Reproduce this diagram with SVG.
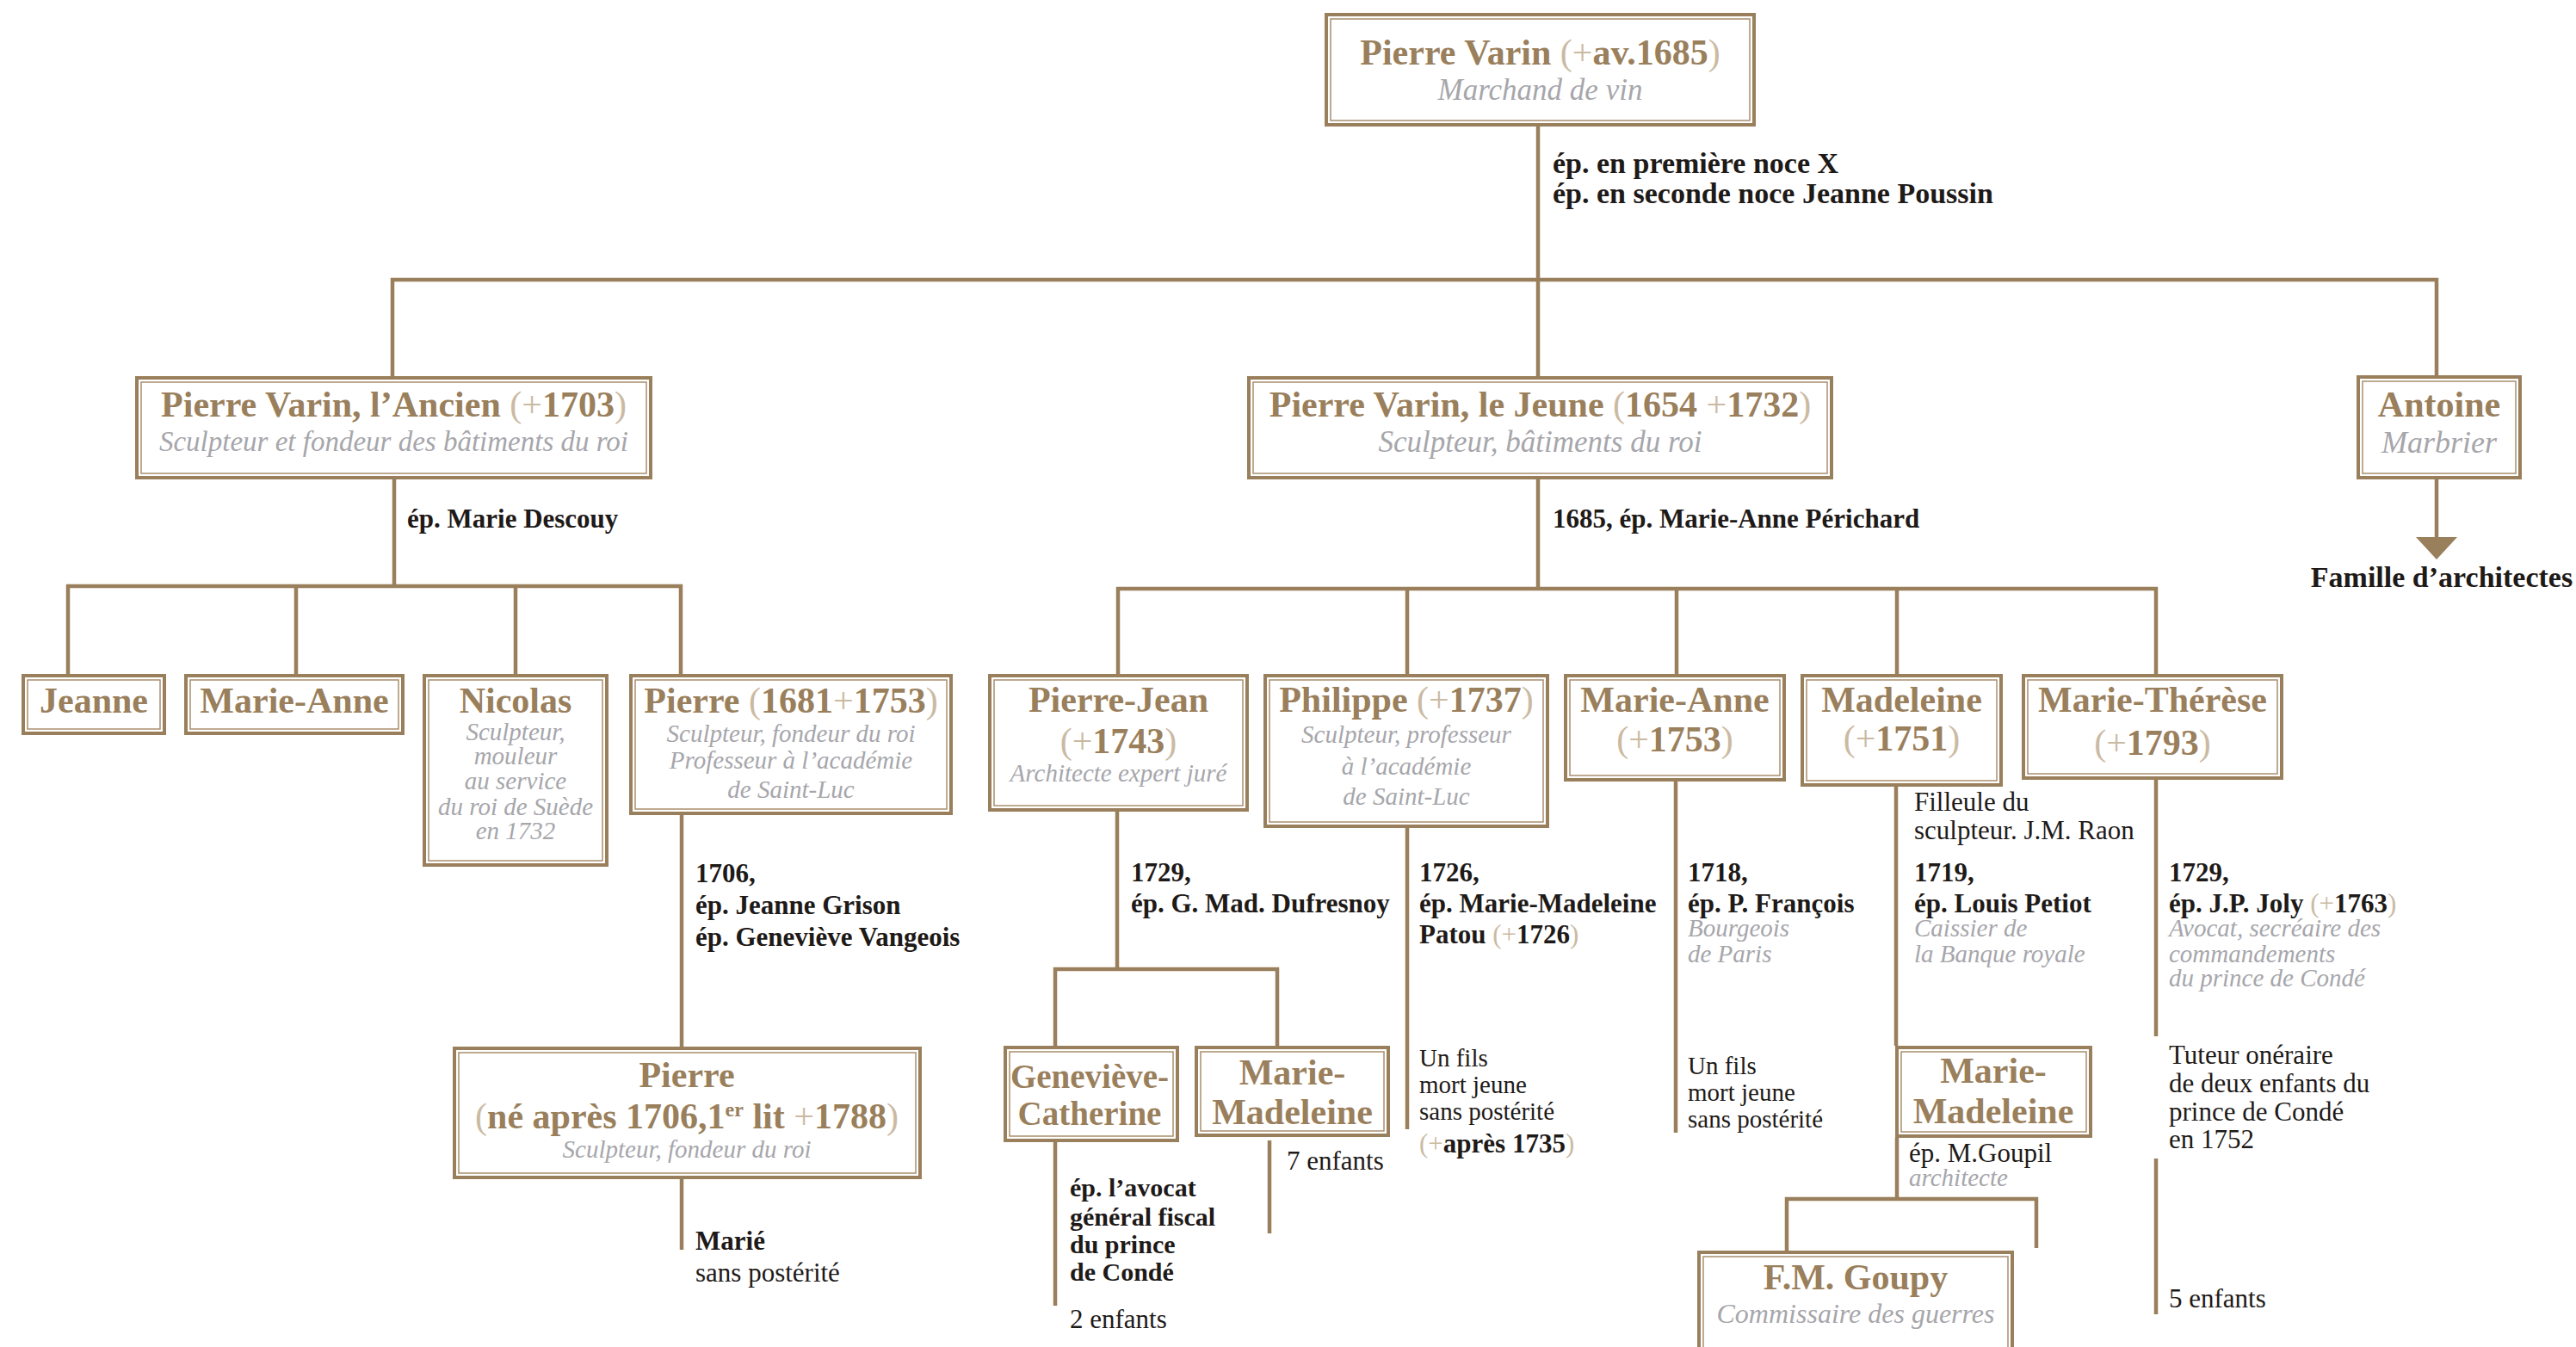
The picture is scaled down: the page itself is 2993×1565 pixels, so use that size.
<svg xmlns="http://www.w3.org/2000/svg" width="2993" height="1565" viewBox="0 0 2993 1565">
<style>
text{font-family:"Liberation Serif","Times New Roman",serif}
.t{font-weight:bold;fill:#9a7f5c;text-anchor:middle;font-size:42px}
.p{font-weight:normal;fill:#cbbaa2}
.s{font-style:italic;fill:#a6a6ab;text-anchor:middle;font-size:29px}
.lb{font-weight:bold;fill:#1e1a18;font-size:31px}
.lr{fill:#1e1a18;font-size:31px}
.lr2{fill:#1e1a18;font-size:29px}
.li{font-style:italic;fill:#a6a6ab;font-size:29px}
.bo{fill:#fff;stroke:#9a7f5c;stroke-width:4}
.bi{fill:none;stroke:#a88f6e;stroke-width:1.5}
.cn{fill:none;stroke:#9a7f5c;stroke-width:4.5}
</style>
<rect width="2993" height="1565" fill="#fff"/>
<g id="connectors">
<path class="cn" d="M1787 147V437 M454 325H2833 M456 323V437 M2831 323V436
M458 557V681 M77 681H793 M79 679V783 M344 681V783 M599 681V783 M791 679V783
M1787 557V684 M1297 684H2507 M1299 682V783 M1635 684V783 M1948 684V783 M2204 684V783 M2505 682V783
M2831 557V626
M792 947V1216 M792 1370V1452
M1298 943V1126 M1224 1126H1486 M1226 1124V1215 M1484 1124V1215
M1226 1327V1517 M1475 1325V1433
M1635 962V1312
M1947 908V1316
M2203 914V1215 M2204 1322V1393 M2074 1393H2368 M2076 1391V1453 M2366 1391V1450
M2505 906V1204 M2505 1346V1527"/>
<polygon points="2807,624 2855,624 2831,650" fill="#9a7f5c"/>
</g>
<g id="labels">
<text class="lb" x="1804" y="201" style="font-size:34px">ép. en première noce X</text>
<text class="lb" x="1804" y="236" style="font-size:34px">ép. en seconde noce Jeanne Poussin</text>
<text class="lb" x="473" y="613">ép. Marie Descouy</text>
<text class="lb" x="1804" y="613">1685, ép. Marie-Anne Périchard</text>
<text class="lb" x="2837" y="682" style="font-size:34px;text-anchor:middle">Famille d’architectes</text>
<text class="lb" x="808" y="1025">1706,</text>
<text class="lb" x="808" y="1062">ép. Jeanne Grison</text>
<text class="lb" x="808" y="1099">ép. Geneviève Vangeois</text>
<text class="lb" x="808" y="1452">Marié</text>
<text class="lr" x="808" y="1489">sans postérité</text>
<text class="lb" x="1314" y="1024">1729,</text>
<text class="lb" x="1314" y="1060">ép. G. Mad. Dufresnoy</text>
<text class="lb" x="1243" y="1390" style="font-size:30px">ép. l’avocat</text>
<text class="lb" x="1243" y="1424" style="font-size:30px">général fiscal</text>
<text class="lb" x="1243" y="1456" style="font-size:30px">du prince</text>
<text class="lb" x="1243" y="1488" style="font-size:30px">de Condé</text>
<text class="lr" x="1243" y="1543">2 enfants</text>
<text class="lr" x="1495" y="1359">7 enfants</text>
<text class="lb" x="1649" y="1024">1726,</text>
<text class="lb" x="1649" y="1060">ép. Marie-Madeleine</text>
<text class="lb" x="1649" y="1096">Patou <tspan class="p">(+</tspan>1726<tspan class="p">)</tspan></text>
<text class="lr2" x="1649" y="1239">Un fils</text>
<text class="lr2" x="1649" y="1270">mort jeune</text>
<text class="lr2" x="1649" y="1301">sans postérité</text>
<text class="lb" x="1649" y="1339"><tspan class="p">(+</tspan>après 1735<tspan class="p">)</tspan></text>
<text class="lb" x="1961" y="1024">1718,</text>
<text class="lb" x="1961" y="1060">ép. P. François</text>
<text class="li" x="1961" y="1088">Bourgeois</text>
<text class="li" x="1961" y="1118">de Paris</text>
<text class="lr2" x="1961" y="1248">Un fils</text>
<text class="lr2" x="1961" y="1279">mort jeune</text>
<text class="lr2" x="1961" y="1310">sans postérité</text>
<text class="lr" x="2224" y="942">Filleule du</text>
<text class="lr" x="2224" y="975">sculpteur. J.M. Raon</text>
<text class="lb" x="2224" y="1024">1719,</text>
<text class="lb" x="2224" y="1060">ép. Louis Petiot</text>
<text class="li" x="2224" y="1088">Caissier de</text>
<text class="li" x="2224" y="1118">la Banque royale</text>
<text class="lr" x="2218" y="1350">ép. M.Goupil</text>
<text class="li" x="2218" y="1378">architecte</text>
<text class="lb" x="2520" y="1024">1729,</text>
<text class="lb" x="2520" y="1060">ép. J.P. Joly <tspan class="p">(+</tspan>1763<tspan class="p">)</tspan></text>
<text class="li" x="2520" y="1088">Avocat, secréaire des</text>
<text class="li" x="2520" y="1118">commandements</text>
<text class="li" x="2520" y="1146">du prince de Condé</text>
<text class="lr" x="2520" y="1236">Tuteur onéraire</text>
<text class="lr" x="2520" y="1269">de deux enfants du</text>
<text class="lr" x="2520" y="1302">prince de Condé</text>
<text class="lr" x="2520" y="1334">en 1752</text>
<text class="lr" x="2520" y="1519">5 enfants</text>
</g>
<g id="n-pierre-varin">
<rect class="bo" x="1541" y="17" width="497" height="128"/><rect class="bi" x="1546" y="22" width="487" height="118"/>
<text class="t" x="1789.5" y="75">Pierre Varin <tspan class="p">(+</tspan>av.1685<tspan class="p">)</tspan></text>
<text class="s" x="1789.5" y="116" style="font-size:35px">Marchand de vin</text>
</g>
<g id="n-ancien">
<rect class="bo" x="159" y="439" width="597" height="116"/><rect class="bi" x="164" y="444" width="587" height="106"/>
<text class="t" x="457.5" y="484">Pierre Varin, l’Ancien <tspan class="p">(+</tspan>1703<tspan class="p">)</tspan></text>
<text class="s" x="457.5" y="524" style="font-size:33px">Sculpteur et fondeur des bâtiments du roi</text>
</g>
<g id="n-jeune">
<rect class="bo" x="1451" y="439" width="677" height="116"/><rect class="bi" x="1456" y="444" width="667" height="106"/>
<text class="t" x="1789.5" y="484">Pierre Varin, le Jeune <tspan class="p">(</tspan>1654 <tspan class="p">+</tspan>1732<tspan class="p">)</tspan></text>
<text class="s" x="1789.5" y="525" style="font-size:35px">Sculpteur, bâtiments du roi</text>
</g>
<g id="n-antoine">
<rect class="bo" x="2740" y="438" width="188" height="117"/><rect class="bi" x="2745" y="443" width="178" height="107"/>
<text class="t" x="2834" y="484">Antoine</text>
<text class="s" x="2834" y="526" style="font-size:36px">Marbrier</text>
</g>
<g id="n-jeanne">
<rect class="bo" x="27" y="785" width="164" height="67"/><rect class="bi" x="32" y="790" width="154" height="57"/>
<text class="t" x="109" y="828">Jeanne</text>
</g>
<g id="n-marie-anne-1">
<rect class="bo" x="216" y="785" width="252" height="67"/><rect class="bi" x="221" y="790" width="242" height="57"/>
<text class="t" x="342" y="828">Marie-Anne</text>
</g>
<g id="n-nicolas">
<rect class="bo" x="493" y="785" width="212" height="220"/><rect class="bi" x="498" y="790" width="202" height="210"/>
<text class="t" x="599" y="828">Nicolas</text>
<text class="s" x="599" y="860">Sculpteur,</text>
<text class="s" x="599" y="888">mouleur</text>
<text class="s" x="599" y="917">au service</text>
<text class="s" x="599" y="947">du roi de Suède</text>
<text class="s" x="599" y="975">en 1732</text>
</g>
<g id="n-pierre-1681">
<rect class="bo" x="733" y="785" width="372" height="160"/><rect class="bi" x="738" y="790" width="362" height="150"/>
<text class="t" x="919" y="828">Pierre <tspan class="p">(</tspan>1681<tspan class="p">+</tspan>1753<tspan class="p">)</tspan></text>
<text class="s" x="919" y="862">Sculpteur, fondeur du roi</text>
<text class="s" x="919" y="893">Professeur à l’académie</text>
<text class="s" x="919" y="927">de Saint-Luc</text>
</g>
<g id="n-pierre-1706">
<rect class="bo" x="528" y="1218" width="541" height="150"/><rect class="bi" x="533" y="1223" width="531" height="140"/>
<text class="t" x="798" y="1263">Pierre</text>
<text class="t" x="798" y="1311"><tspan class="p">(</tspan>né après 1706,1<tspan dy="-14" style="font-size:24px">er</tspan><tspan dy="14"> lit </tspan><tspan class="p">+</tspan>1788<tspan class="p">)</tspan></text>
<text class="s" x="798" y="1345">Sculpteur, fondeur du roi</text>
</g>
<g id="n-pierre-jean">
<rect class="bo" x="1150" y="785" width="299" height="156"/><rect class="bi" x="1155" y="790" width="289" height="146"/>
<text class="t" x="1299.5" y="827">Pierre-Jean</text>
<text class="t" x="1299.5" y="875"><tspan class="p">(+</tspan>1743<tspan class="p">)</tspan></text>
<text class="s" x="1299.5" y="908">Architecte expert juré</text>
</g>
<g id="n-philippe">
<rect class="bo" x="1470" y="785" width="328" height="175"/><rect class="bi" x="1475" y="790" width="318" height="165"/>
<text class="t" x="1634" y="827">Philippe <tspan class="p">(+</tspan>1737<tspan class="p">)</tspan></text>
<text class="s" x="1634" y="863">Sculpteur, professeur</text>
<text class="s" x="1634" y="900">à l’académie</text>
<text class="s" x="1634" y="935">de Saint-Luc</text>
</g>
<g id="n-marie-anne-2">
<rect class="bo" x="1819" y="785" width="254" height="121"/><rect class="bi" x="1824" y="790" width="244" height="111"/>
<text class="t" x="1946" y="827">Marie-Anne</text>
<text class="t" x="1946" y="873"><tspan class="p">(+</tspan>1753<tspan class="p">)</tspan></text>
</g>
<g id="n-madeleine">
<rect class="bo" x="2094" y="785" width="231" height="127"/><rect class="bi" x="2099" y="790" width="221" height="117"/>
<text class="t" x="2209.5" y="827">Madeleine</text>
<text class="t" x="2209.5" y="872"><tspan class="p">(+</tspan>1751<tspan class="p">)</tspan></text>
</g>
<g id="n-marie-therese">
<rect class="bo" x="2351" y="785" width="300" height="119"/><rect class="bi" x="2356" y="790" width="290" height="109"/>
<text class="t" x="2501" y="827">Marie-Thérèse</text>
<text class="t" x="2501" y="877"><tspan class="p">(+</tspan>1793<tspan class="p">)</tspan></text>
</g>
<g id="n-genevieve-catherine">
<rect class="bo" x="1168" y="1217" width="200" height="108"/><rect class="bi" x="1173" y="1222" width="190" height="98"/>
<text class="t" x="1266" y="1264" style="font-size:39px">Geneviève-</text>
<text class="t" x="1266" y="1307" style="font-size:39px">Catherine</text>
</g>
<g id="n-marie-madeleine-1">
<rect class="bo" x="1390" y="1217" width="223" height="102"/><rect class="bi" x="1395" y="1222" width="213" height="92"/>
<text class="t" x="1501.5" y="1260">Marie-</text>
<text class="t" x="1501.5" y="1306">Madeleine</text>
</g>
<g id="n-marie-madeleine-2">
<rect class="bo" x="2204" y="1217" width="225" height="103"/><rect class="bi" x="2209" y="1222" width="215" height="93"/>
<text class="t" x="2316" y="1258">Marie-</text>
<text class="t" x="2316" y="1305">Madeleine</text>
</g>
<g id="n-goupy">
<rect class="bo" x="1974" y="1455" width="364" height="160"/><rect class="bi" x="1979" y="1460" width="354" height="150"/>
<text class="t" x="2156" y="1498">F.M. Goupy</text>
<text class="s" x="2156" y="1537" style="font-size:32px">Commissaire des guerres</text>
</g>
</svg>
